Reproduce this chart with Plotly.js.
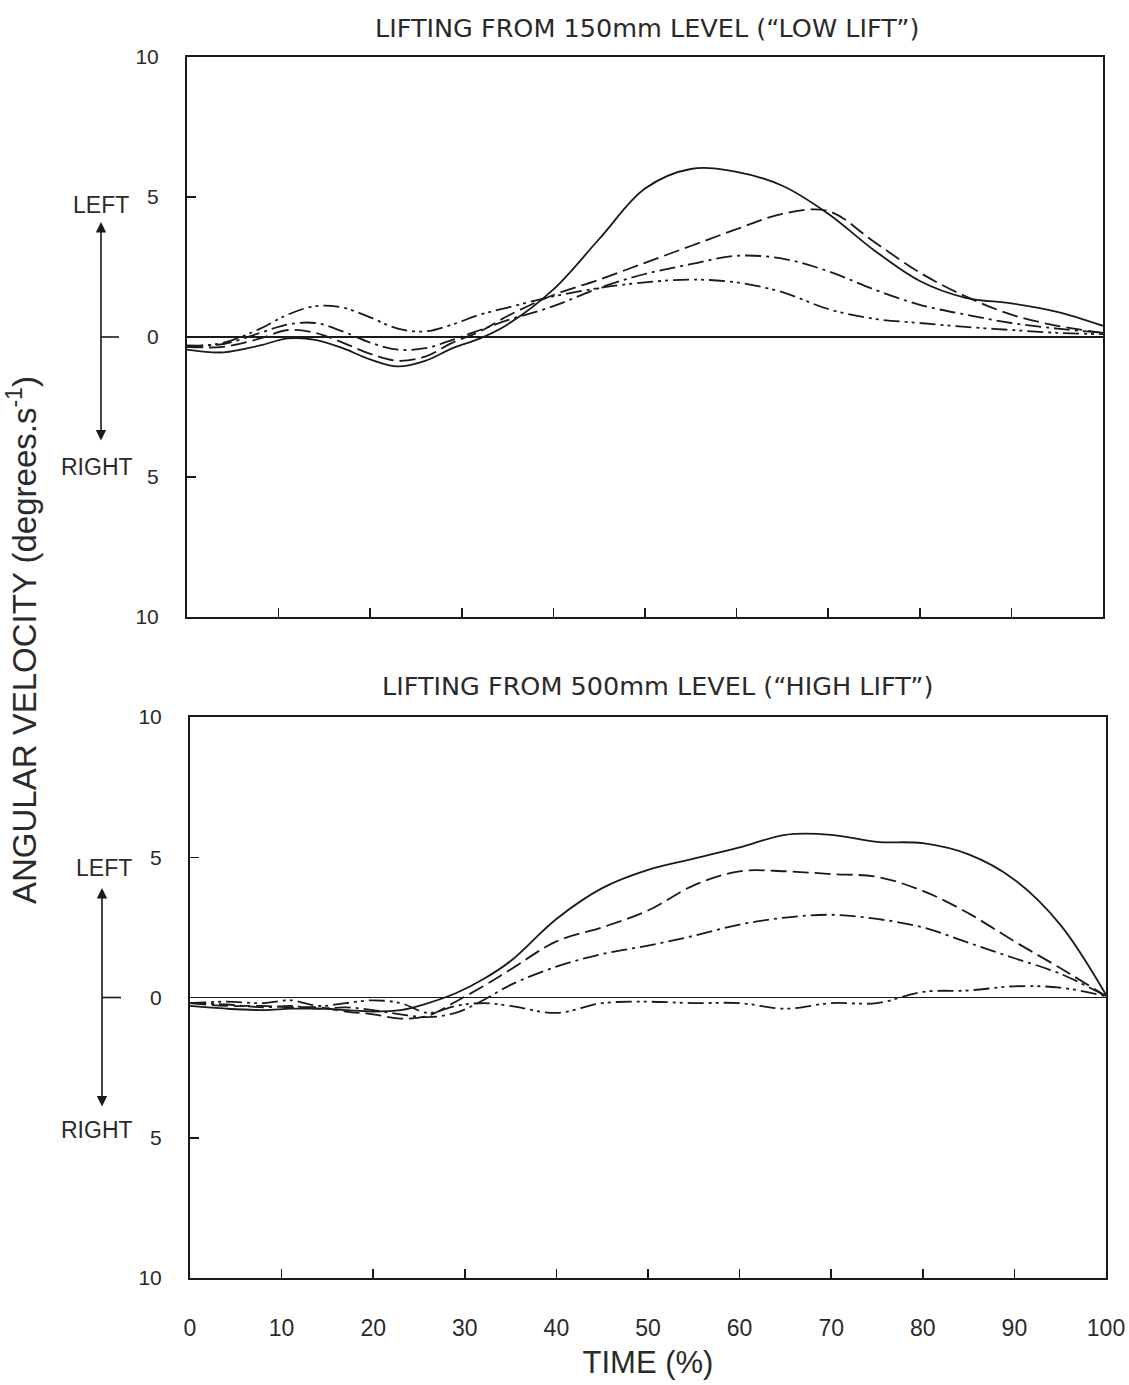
<!DOCTYPE html>
<html>
<head>
<meta charset="utf-8">
<script src="https://cdn.plot.ly/plotly-3.0.1.min.js"></script>
<style>html,body{margin:0;padding:0;background:#fff;}#chart{width:1129px;height:1385px;}</style>
</head>
<body>
<div id="chart"></div>
<script>
// Time (%) sample points
const timePct = [0,4,8,11,14,17,20,23,26,29,32,35,40,45,50,55,60,65,70,75,80,85,90,95,100];

// Top panel: lifting from 150mm ("LOW LIFT")
const lowSolid   = [-0.45,-0.55,-0.3,-0.05,-0.1,-0.4,-0.8,-1.05,-0.85,-0.4,-0.05,0.45,1.7,3.5,5.3,6.0,5.9,5.4,4.4,3.1,2.0,1.4,1.2,0.9,0.4];
const lowDash    = [-0.35,-0.35,-0.05,0.25,0.15,-0.2,-0.6,-0.85,-0.7,-0.2,0.2,0.75,1.5,2.05,2.65,3.25,3.85,4.4,4.5,3.4,2.3,1.45,0.8,0.4,0.15];
const lowDashDot = [-0.3,-0.25,0.15,0.45,0.5,0.2,-0.2,-0.45,-0.4,-0.1,0.25,0.6,1.1,1.75,2.25,2.6,2.9,2.8,2.35,1.7,1.15,0.8,0.5,0.3,0.15];
const lowDashDot2= [-0.35,-0.2,0.3,0.8,1.1,1.05,0.7,0.3,0.2,0.45,0.8,1.05,1.45,1.75,1.95,2.05,1.95,1.6,1.0,0.65,0.5,0.36,0.25,0.15,0.1];

// Bottom panel: lifting from 500mm ("HIGH LIFT")
const highSolid   = [-0.3,-0.4,-0.45,-0.4,-0.4,-0.45,-0.5,-0.45,-0.2,0.15,0.65,1.3,2.8,3.9,4.55,4.95,5.35,5.8,5.8,5.55,5.5,5.1,4.2,2.6,0.1];
const highDash    = [-0.2,-0.3,-0.3,-0.35,-0.35,-0.5,-0.6,-0.75,-0.65,-0.15,0.4,1.0,2.0,2.5,3.1,4.0,4.5,4.5,4.4,4.3,3.8,3.0,2.0,1.05,0.05];
const highDashDot = [-0.2,-0.25,-0.35,-0.3,-0.4,-0.35,-0.45,-0.6,-0.7,-0.55,-0.1,0.45,1.1,1.55,1.85,2.2,2.6,2.85,2.95,2.8,2.5,1.95,1.4,0.85,0.05];
const highDashDot2= [-0.2,-0.15,-0.2,-0.1,-0.3,-0.2,-0.1,-0.2,-0.55,-0.3,-0.2,-0.3,-0.55,-0.2,-0.15,-0.2,-0.2,-0.4,-0.2,-0.2,0.2,0.25,0.4,0.35,0.05];

// Axis ticks
const yTickVals = [-10,-5,0,5,10];
const yTickText = ['10','5','0','5','10'];
const xTickVals = [0,10,20,30,40,50,60,70,80,90,100];
const xTickText = ['0','10','20','30','40','50','60','70','80','90','100'];

const INK = '#1a1a1a';
const TXT = '#2a2a2a';
const styles = [
  {dash:'solid'},
  {dash:'16px,6px'},
  {dash:'16px,5px,3px,5px'},
  {dash:'16px,5px,3px,4px,3px,5px'}
];
function mk(y, i, xa, ya){
  return {x: timePct, y: y, xaxis: xa, yaxis: ya, type:'scatter', mode:'lines',
    line:{color:INK, width:1.8, dash:styles[i].dash, shape:'spline', smoothing:1},
    showlegend:false, hoverinfo:'skip'};
}
const data = [
  mk(lowSolid,0,'x','y'), mk(lowDash,1,'x','y'), mk(lowDashDot,2,'x','y'), mk(lowDashDot2,3,'x','y'),
  mk(highSolid,0,'x2','y2'), mk(highDash,1,'x2','y2'), mk(highDashDot,2,'x2','y2'), mk(highDashDot2,3,'x2','y2')
];

const W = 1129, H = 1385;
const px = v => v / W;
const py = v => 1 - v / H;
const FONT = 'Liberation Sans, Arial, sans-serif';
const WIDE = 'DejaVu Sans, Liberation Sans, sans-serif';
const NARROW = 'Liberation Sans Narrow, Arial Narrow, Liberation Sans, sans-serif';

const yBase = {range:[-10,10], tickvals:yTickVals, ticktext:yTickText, ticks:'inside', ticklen:9, tickwidth:1.5,
  tickcolor:INK, showline:true, linecolor:INK, linewidth:2, mirror:true, showgrid:false,
  zeroline:true, zerolinecolor:INK, zerolinewidth:1.5, fixedrange:true,
  tickfont:{family:FONT, size:21, color:TXT}, ticklabelstandoff:22};
const xBase = {range:[0,100], ticks:'inside', ticklen:9, tickwidth:1.5, tickcolor:INK,
  showline:true, linecolor:INK, linewidth:2, mirror:true, showgrid:false, zeroline:false, fixedrange:true};

function label(text, x, y, size, fam, extra){
  return Object.assign({text:text, xref:'paper', yref:'paper', x:px(x), y:py(y), xanchor:'center', yanchor:'middle',
    showarrow:false, font:{family:fam, size:size, color:TXT}}, extra || {});
}

const layout = {
  width:W, height:H, margin:{l:0,r:0,t:0,b:0}, paper_bgcolor:'#fff', plot_bgcolor:'#fff',
  xaxis: Object.assign({}, xBase, {domain:[px(187), px(1103)], anchor:'y', tickvals:[10,20,30,40,50,60,70,80,90], showticklabels:false}),
  yaxis: Object.assign({}, yBase, {domain:[py(617), py(57)], anchor:'x'}),
  xaxis2: Object.assign({}, xBase, {domain:[px(190), px(1106)], anchor:'y2', tickvals:xTickVals, ticktext:xTickText,
    tickfont:{family:NARROW, size:23, color:TXT}, ticklabelstandoff:28,
    title:{text:'TIME (%)', font:{family:NARROW, size:31, color:TXT}, standoff:12}}),
  yaxis2: Object.assign({}, yBase, {domain:[py(1278), py(717)], anchor:'x2'}),
  annotations: [
    label('LIFTING FROM 150mm LEVEL (\u201CLOW LIFT\u201D)', 647, 28, 25.5, WIDE),
    label('LIFTING FROM 500mm LEVEL (\u201CHIGH LIFT\u201D)', 657, 686, 25.5, WIDE),
    label('ANGULAR VELOCITY (degrees.s<sup>-1</sup>)', 22, 640, 33, FONT, {textangle:-90}),
    label('LEFT', 101, 205, 23, FONT),
    label('RIGHT', 97, 467, 23, FONT),
    label('LEFT', 104, 868, 23, FONT),
    label('RIGHT', 97, 1130, 23, FONT),
    {text:'', xref:'paper', yref:'paper', x:px(101), y:py(222), ax:0, ay:220, axref:'pixel', ayref:'pixel',
      showarrow:true, arrowside:'end+start', arrowhead:2, arrowsize:1.3, arrowwidth:1.6, arrowcolor:INK},
    {text:'', xref:'paper', yref:'paper', x:px(102), y:py(888), ax:0, ay:220, axref:'pixel', ayref:'pixel',
      showarrow:true, arrowside:'end+start', arrowhead:2, arrowsize:1.3, arrowwidth:1.6, arrowcolor:INK}
  ],
  shapes: [
    {type:'line', xref:'paper', yref:'y', x0:px(101), x1:px(119), y0:0, y1:0, line:{color:INK, width:1.6}},
    {type:'line', xref:'paper', yref:'y2', x0:px(102), x1:px(121), y0:0, y1:0, line:{color:INK, width:1.6}}
  ]
};

Plotly.newPlot('chart', data, layout, {staticPlot:true, displayModeBar:false});
</script>
</body>
</html>
